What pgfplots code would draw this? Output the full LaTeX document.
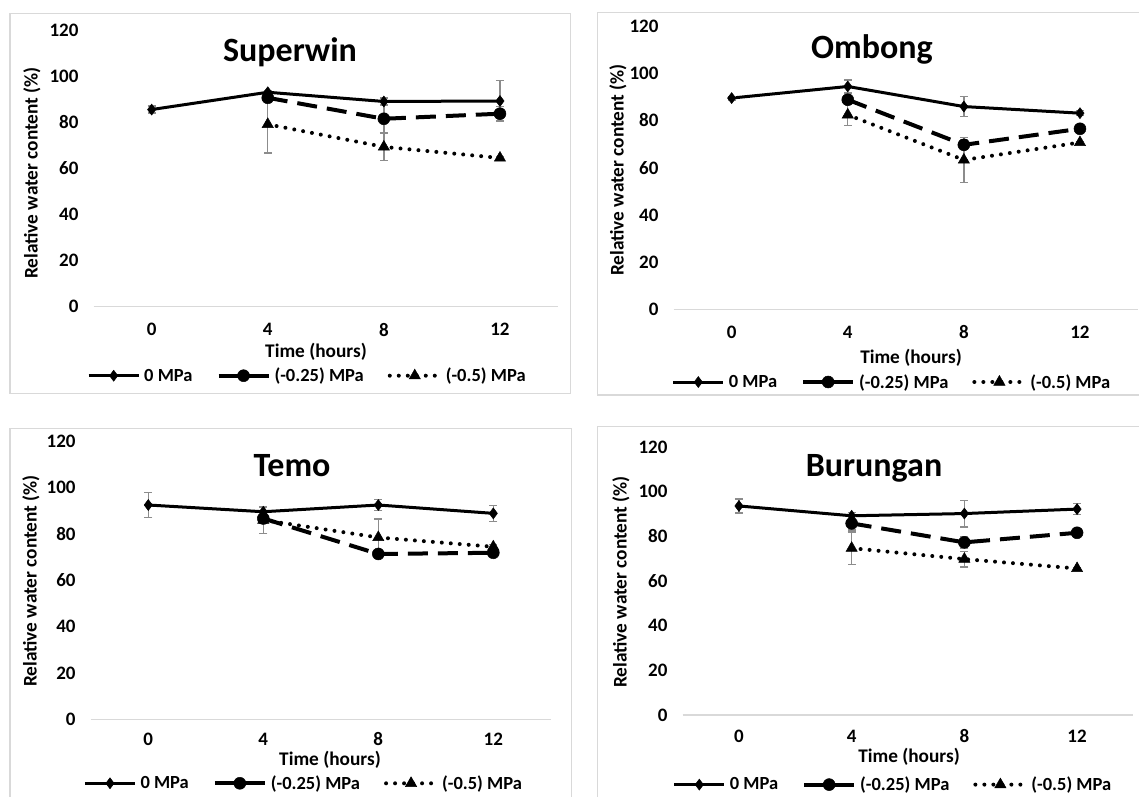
\documentclass[border=0pt]{standalone}
\usepackage{fontspec}
\setmainfont{Carlito}
\usepackage{pgfplots}
\pgfplotsset{compat=1.18}
\definecolor{axgray}{HTML}{D9D9D9}
\definecolor{errgray}{HTML}{8C8C8C}
\newcommand{\fs}[1]{\fontsize{#1}{#1}\selectfont\bfseries}

\pgfplotsset{
  rwc/.style={
    scale only axis, anchor=south west, clip=false,
    xmin=-2, xmax=14, ymin=0, ymax=120,
    xtick={0,4,8,12}, ytick={0,20,...,120},
    axis x line=bottom, axis y line=left,
    x axis line style={draw=axgray, line width=1.3pt, -},
    y axis line style={draw=none},
    major tick length=0pt,
    /pgf/number format/assume math mode=true,
    tick label style={font=\fs{19}, text=black},
    xticklabel style={anchor=center, yshift=-23pt},
    yticklabel style={anchor=east, inner sep=0pt, xshift=-15pt},
    legend columns=3,
    legend style={draw=none, fill=none, inner sep=0pt, font=\fs{18.5},
      at={(axis description cs:0,0)}, anchor=west,
      nodes={inner xsep=4pt, inner ysep=1pt},
      /tikz/every even column/.append style={column sep=20pt}},
    legend image code/.code={
      \draw[mark repeat=2,mark phase=2,##1] plot coordinates {(0pt,0pt) (25pt,0pt) (50pt,0pt)};},
  },
  s0/.style={black, line width=3pt, solid, mark=diamond*, mark size=5.5pt, mark options={solid, line width=0.5pt}},
  s1/.style={black, line width=4pt, dash pattern=on 20pt off 10pt, mark=*, mark size=6pt, mark options={solid, line width=0.5pt}},
  s2/.style={black, line width=4pt, line cap=round, dash pattern=on 0pt off 9pt, mark=triangle*, mark size=6.5pt, mark options={solid, line width=0.5pt}},
  eb/.style={/pgfplots/error bars/y dir=both, /pgfplots/error bars/y explicit,
    /pgfplots/error bars/error bar style={errgray, line width=1.3pt, solid, line cap=butt},
    /pgfplots/error bars/error mark options={rotate=90, errgray, line width=1.3pt, mark size=4pt, solid}},
}

\begin{document}
\begin{tikzpicture}[x=1pt,y=1pt]
\useasboundingbox (0,0) rectangle (1139,796);
\fill[white] (0,0) rectangle (1139,796);

% panel frames
\draw[axgray, line width=1.3pt] (10,402.7) rectangle (570.7,782.7);
\draw[axgray, line width=1.3pt] (597.3,401) rectangle (1150,783.2);
\draw[axgray, line width=1.3pt] (10,-10) rectangle (571.7,367.7);
\draw[axgray, line width=1.3pt] (597.3,-10) rectangle (1150,369.3);

%% Superwin
\begin{axis}[rwc, at={(93.6pt,489.3pt)}, width=464.4pt, height=276.7pt,
  legend style={xshift=-6.6pt, yshift=-69pt}]
\addplot[s0, eb] coordinates {(0,85.5) +- (0,1.5) (4,93) +- (0,0.8) (8,89) +- (0,1.5) (12,89.2) +- (0,9)};
\addlegendentry{0 MPa}
\addplot[s1, eb] coordinates {(4,90.6) +- (0,2) (8,81.5) +- (0,6) (12,83.7) +- (0,3)};
\addlegendentry{(-0.25) MPa}
\addplot[s2, eb] coordinates {(4,79.1) +- (0,12.4) (8,69.3) +- (0,6) (12,64.5) +- (0,0.5)};
\addlegendentry{(-0.5) MPa}
\end{axis}

%% Ombong
\begin{axis}[rwc, at={(673.6pt,486.5pt)}, width=464.4pt, height=283.5pt,
  legend style={xshift=-2pt, yshift=-72.5pt}]
\addplot[s0, eb] coordinates {(0,89.5) +- (0,0.8) (4,94.4) +- (0,2.7) (8,85.9) +- (0,4.2) (12,83.1) +- (0,1)};
\addlegendentry{0 MPa}
\addplot[s1, eb] coordinates {(4,88.8) +- (0,1.5) (8,69.7) +- (0,2) (12,76.5) +- (0,0.5)};
\addlegendentry{(-0.25) MPa}
\addplot[s2, eb] coordinates {(4,82.4) +- (0,4.4) (8,63.3) +- (0,9.6) (12,70.7) +- (0,0.5)};
\addlegendentry{(-0.5) MPa}
\end{axis}

%% Temo
\begin{axis}[rwc, at={(90.8pt,76.7pt)}, width=460pt, height=278.3pt,
  xticklabel style={yshift=3pt},
  legend style={xshift=-7.5pt, yshift=-64pt}]
\addplot[s0, eb] coordinates {(0,92.4) +- (0,5.5) (4,89.5) +- (0,1.8) (8,92.4) +- (0,2.5) (12,88.8) +- (0,3.5)};
\addlegendentry{0 MPa}
\addplot[s1, eb] coordinates {(4,86.6) +- (0,2) (8,71.3) +- (0,1) (12,71.8) +- (0,1)};
\addlegendentry{(-0.25) MPa}
\addplot[s2, eb] coordinates {(4,85.9) +- (0,5.8) (8,78.4) +- (0,8) (12,74.4) +- (0,1)};
\addlegendentry{(-0.5) MPa}
\end{axis}

%% Burungan
\begin{axis}[rwc, at={(682.6pt,81pt)}, width=450.8pt, height=268pt,
  xticklabel style={yshift=2pt},
  legend style={xshift=-10pt, yshift=-69.6pt}]
\addplot[s0, eb] coordinates {(0,93.6) +- (0,3.1) (4,89.2) +- (0,1.5) (8,90.2) +- (0,6) (12,92.2) +- (0,2.5)};
\addlegendentry{0 MPa}
\addplot[s1, eb] coordinates {(4,85.8) +- (0,3) (8,77.3) +- (0,2.5) (12,81.6) +- (0,0.5)};
\addlegendentry{(-0.25) MPa}
\addplot[s2, eb] coordinates {(4,74.7) +- (0,7.3) (8,69.8) +- (0,3.5) (12,65.6) +- (0,0.5)};
\addlegendentry{(-0.5) MPa}
\end{axis}

% titles
\node[font=\fs{34}] at (290,744) {Superwin};
\node[font=\fs{34}] at (872,747) {Ombong};
\node[font=\fs{34}] at (292,330) {Temo};
\node[font=\fs{34}] at (874,328) {Burungan};

% axis titles
\node[font=\fs{19.3}, rotate=90] at (32,623) {Relative water content (\%)};
\node[font=\fs{19.3}, rotate=90] at (618,626) {Relative water content (\%)};
\node[font=\fs{19.3}, rotate=90] at (31,215) {Relative water content (\%)};
\node[font=\fs{19.3}, rotate=90] at (621,214) {Relative water content (\%)};
\node[font=\fs{19.3}] at (316,444) {Time (hours)};
\node[font=\fs{19.3}] at (911,438) {Time (hours)};
\node[font=\fs{19.3}] at (330,36) {Time (hours)};
\node[font=\fs{19.3}] at (909,39) {Time (hours)};
\end{tikzpicture}
\end{document}
